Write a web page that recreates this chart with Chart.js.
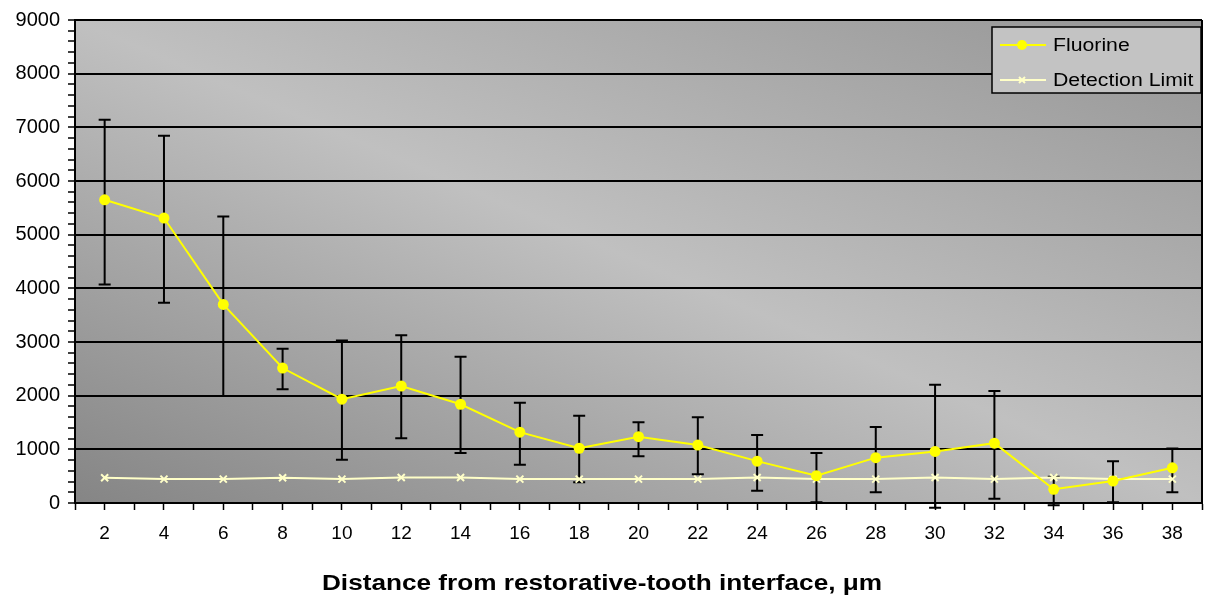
<!DOCTYPE html>
<html>
<head>
<meta charset="utf-8">
<title>Fluorine vs distance</title>
<script src="https://cdn.jsdelivr.net/npm/chart.js@4.4.1/dist/chart.umd.min.js"></script>
<style>
  html, body { margin: 0; padding: 0; background: #fff; }
  .chart-box { position: relative; width: 1214px; height: 602px; }
</style>
</head>
<body>
<div class="chart-box"><canvas id="fluorineChart" width="1214" height="602"></canvas></div>
<script>
//! =============== Data =============== //
const distances = [2, 4, 6, 8, 10, 12, 14, 16, 18, 20, 22, 24, 26, 28, 30, 32, 34, 36, 38];
const fluorine = [5650, 5310, 3700, 2515, 1935, 2180, 1840, 1320, 1020, 1235, 1080, 780, 510, 845, 960, 1115, 255, 410, 655];
const fluorineUpper = [7140, 6845, 5340, 2875, 3030, 3125, 2725, 1870, 1625, 1505, 1600, 1265, 930, 1415, 2205, 2085, 490, 780, 1015];
const fluorineLower = [4070, 3730, 1995, 2120, 805, 1205, 930, 715, 385, 870, 535, 230, 12, 200, -90, 80, -40, 15, 200];
const detectionLimit = [470, 445, 445, 470, 445, 475, 475, 445, 445, 445, 445, 475, 445, 445, 475, 445, 475, 445, 445];
const yTickLabels = ['0', '1000', '2000', '3000', '4000', '5000', '6000', '7000', '8000', '9000'];
const xTitle = 'Distance from restorative-tooth interface, \u03bcm';

const FONT = '"Liberation Sans", Arial, sans-serif';


//! =============== Plugins =============== //
// gray gradient behind the plot: light band along the top-left/bottom-right diagonal
const plotBackground = {
  id: 'plotBackground',
  beforeDraw(chart) {
    const {ctx, chartArea: a} = chart;
    const w = a.right - a.left, h = a.bottom - a.top;
    const cx = a.left + w / 2, cy = a.top + h / 2;
    const len = Math.hypot(w, h);
    const ux = h / len, uy = -w / len;          // perpendicular to the light diagonal
    const half = Math.abs((-w / 2) * ux + (h / 2) * uy);
    const g = ctx.createLinearGradient(cx - ux * half, cy - uy * half, cx + ux * half, cy + uy * half);
    g.addColorStop(0, '#858585');
    g.addColorStop(0.5, '#c0c0c0');
    g.addColorStop(1, '#959595');
    ctx.save();
    ctx.fillStyle = g;
    ctx.fillRect(a.left, a.top, w, h);
    ctx.restore();
  }
};

// vertical error bars for the fluorine series
const errorBars = {
  id: 'errorBars',
  beforeDatasetsDraw(chart) {
    const {ctx, scales: {x, y}} = chart;
    ctx.save();
    ctx.strokeStyle = '#000';
    ctx.lineWidth = 2;
    distances.forEach((d, i) => {
      const px = x.getPixelForValue(d);
      const top = y.getPixelForValue(fluorineUpper[i]);
      const bot = y.getPixelForValue(fluorineLower[i]);
      ctx.beginPath();
      ctx.moveTo(px, top); ctx.lineTo(px, bot);
      ctx.moveTo(px - 6, top); ctx.lineTo(px + 6, top);
      ctx.moveTo(px - 6, bot); ctx.lineTo(px + 6, bot);
      ctx.stroke();
    });
    ctx.restore();
  }
};

// right frame line, boxed legend inside the plot, x axis title
const frameAndLegend = {
  id: 'frameAndLegend',
  afterDraw(chart) {
    const {ctx, chartArea: a} = chart;
    ctx.save();
    ctx.strokeStyle = '#000';
    ctx.lineWidth = 2;
    ctx.beginPath();
    ctx.moveTo(a.right, a.top); ctx.lineTo(a.right, a.bottom);
    ctx.stroke();

    const bx = 992, by = 27, bw = 209, bh = 66;
    ctx.fillStyle = '#c3c3c3';
    ctx.fillRect(bx, by, bw, bh);
    ctx.lineWidth = 1.5;
    ctx.strokeRect(bx, by, bw, bh);

    const rows = chart.data.datasets.map((ds, i) => ({ds, y: by + 18 + i * 35}));
    rows.forEach(({ds, y}) => {
      ctx.strokeStyle = ds.borderColor;
      ctx.lineWidth = 2;
      ctx.beginPath();
      ctx.moveTo(1000, y); ctx.lineTo(1046, y);
      ctx.stroke();
      if (ds.pointStyle === 'circle') {
        ctx.fillStyle = ds.pointBackgroundColor;
        ctx.beginPath();
        ctx.arc(1022, y, 5, 0, Math.PI * 2);
        ctx.fill();
      } else {
        ctx.beginPath();
        ctx.moveTo(1019, y - 3); ctx.lineTo(1025, y + 3);
        ctx.moveTo(1025, y - 3); ctx.lineTo(1019, y + 3);
        ctx.stroke();
      }
      ctx.fillStyle = '#000';
      ctx.font = '18px ' + FONT;
      ctx.textBaseline = 'middle';
      ctx.save();
      ctx.translate(1053, y);
      ctx.scale(1.18, 1);
      ctx.fillText(ds.label, 0, 1);
      ctx.restore();
    });

    // axis title, slightly stretched like the original
    ctx.fillStyle = '#000';
    ctx.font = 'bold 22px ' + FONT;
    ctx.textAlign = 'center';
    ctx.textBaseline = 'middle';
    ctx.translate(602, 584);
    ctx.scale(1.19, 1);
    ctx.fillText(xTitle, 0, 0);
    ctx.restore();
  }
};


//! =============== Chart.JS =============== //
const ctx = document.getElementById('fluorineChart').getContext('2d');

const fluorineChart = new Chart(ctx, {
  type: 'line',
  data: {
    datasets: [{
      label: 'Fluorine',
      data: distances.map((d, i) => ({x: d, y: fluorine[i]})),
      borderColor: '#ffff00',
      borderWidth: 2,
      pointStyle: 'circle',
      pointRadius: 5.5,
      pointBackgroundColor: '#ffff00',
      pointBorderColor: '#ffff00',
      pointBorderWidth: 0,
      tension: 0
    }, {
      label: 'Detection Limit',
      data: distances.map((d, i) => ({x: d, y: detectionLimit[i]})),
      borderColor: '#ffffc8',
      borderWidth: 2,
      pointStyle: 'crossRot',
      pointRadius: 5,
      pointBorderColor: '#ffffc8',
      pointBorderWidth: 2,
      tension: 0
    }]
  },
  options: {
    responsive: false,
    animation: false,
    layout: { padding: { left: 0, right: 3, top: 19, bottom: 0 } },
    plugins: {
      legend: { display: false },
      tooltip: { enabled: false }
    },
    scales: {
      x: {
        type: 'linear',
        min: 1,
        max: 39,
        afterFit: (s) => { s.height = 99; },
        border: { color: '#000', width: 2 },
        grid: { drawOnChartArea: false, tickLength: 7, tickColor: '#000', tickWidth: 1.5 },
        ticks: {
          stepSize: 1,
          autoSkip: false,
          maxRotation: 0,
          padding: 12,
          color: '#000',
          font: { family: FONT, size: 19 },
          callback: (v) => distances.includes(v) ? String(v) : ''
        }
      },
      y: {
        min: 0,
        max: 9000,
        afterFit: (s) => { s.width = 75; },
        border: { color: '#000', width: 2 },
        grid: {
          color: (c) => c.tick && c.tick.value % 1000 === 0 ? '#000' : 'rgba(0,0,0,0)',
          lineWidth: 2,
          tickLength: 7,
          tickColor: '#000',
          tickWidth: 1.5
        },
        ticks: {
          stepSize: 200,
          autoSkip: false,
          padding: 8,
          color: '#000',
          font: { family: FONT, size: 20 },
          callback: (v) => v % 1000 === 0 ? yTickLabels[v / 1000] : ''
        }
      }
    }
  },
  plugins: [plotBackground, errorBars, frameAndLegend]
});
</script>
</body>
</html>
